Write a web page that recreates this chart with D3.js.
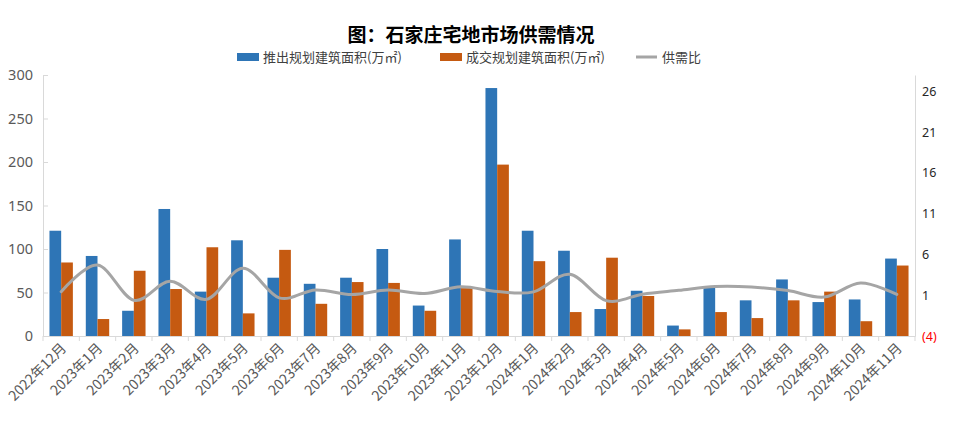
<!DOCTYPE html>
<html>
<head>
<meta charset="utf-8">
<script src="https://cdn.jsdelivr.net/npm/d3@7/dist/d3.min.js"></script>
<style>
  html, body { margin: 0; padding: 0; background: #fff; }
  svg { display: block; font-family: "Noto Sans CJK SC", "Noto Sans", sans-serif; }
</style>
</head>
<body>
<svg id="chart" width="957" height="429"></svg>
<script>
const categories = ["2022年12月","2023年1月","2023年2月","2023年3月","2023年4月","2023年5月","2023年6月","2023年7月","2023年8月","2023年9月","2023年10月","2023年11月","2023年12月","2024年1月","2024年2月","2024年3月","2024年4月","2024年5月","2024年6月","2024年7月","2024年8月","2024年9月","2024年10月","2024年11月"];
const supply = [121, 92, 29, 146, 51, 110, 67, 60, 67, 100, 35, 111, 285, 121, 98, 31, 52, 12, 57, 41, 65, 39, 42, 89];
const deal   = [84.5, 19.5, 75, 54, 102, 26, 99, 37, 62, 61, 29, 55, 197, 86, 27.5, 90, 46, 7.6, 27.5, 20.6, 41, 51, 17, 81];
const ratio  = [1.43, 4.71, 0.38, 2.72, 0.50, 4.30, 0.68, 1.65, 1.08, 1.63, 1.21, 2.03, 1.45, 1.41, 3.57, 0.34, 1.13, 1.60, 2.06, 2.00, 1.57, 0.77, 2.50, 1.10];
const leftTicks = [0, 50, 100, 150, 200, 250, 300];
const rightTicks = [-4, 1, 6, 11, 16, 21, 26];
const seriesNames = ["推出规划建筑面积(万㎡)", "成交规划建筑面积(万㎡)", "供需比"];
const colors = ["#2E75B6", "#C55A11", "#A5A5A5"];

(function () {
const svg = d3.select("#chart");
const pLeft = 43, pRight = 915, pTop = 75, pBottom = 336;

const x0 = d3.scaleBand().domain(categories).range([pLeft, pRight]).padding(0);
const bw = x0.bandwidth();
const x1 = d3.scaleBand().domain(["supply", "deal"]).range([bw * 0.178, bw * 0.822]).padding(0);
const yL = d3.scaleLinear().domain([0, 300]).range([pBottom, pTop]);
const yR = d3.scaleLinear().domain([-4, 28]).range([pBottom, pTop]);

// Title
svg.append("text").attr("x", 471).attr("y", 42).attr("text-anchor", "middle")
  .attr("font-size", 19).attr("font-weight", "bold").attr("fill", "#000")
  .text("图：石家庄宅地市场供需情况");

// Legend
const lg = svg.append("g").attr("font-size", 13).attr("fill", "#404040");
lg.append("rect").attr("x", 237).attr("y", 53).attr("width", 22).attr("height", 8).attr("fill", colors[0]);
lg.append("text").attr("x", 263).attr("y", 61.5).text(seriesNames[0]);
lg.append("rect").attr("x", 440).attr("y", 53).attr("width", 22).attr("height", 8).attr("fill", colors[1]);
lg.append("text").attr("x", 466).attr("y", 61.5).text(seriesNames[1]);
lg.append("line").attr("x1", 636).attr("x2", 657).attr("y1", 57).attr("y2", 57)
  .attr("stroke", colors[2]).attr("stroke-width", 3);
lg.append("text").attr("x", 662).attr("y", 61.5).text(seriesNames[2]);

// Left axis
const axL = svg.append("g").attr("transform", `translate(${pLeft},0)`)
  .call(d3.axisLeft(yL).tickValues(leftTicks).tickSize(-5).tickPadding(10));
axL.select(".domain").attr("stroke", "#D9D9D9");
axL.selectAll(".tick line").attr("stroke", "#D9D9D9");
axL.selectAll(".tick text").attr("font-size", 14.5).attr("fill", "#595959")
  .attr("font-family", "'Noto Sans', sans-serif");

// Right axis
const axR = svg.append("g").attr("transform", `translate(${pRight},0)`)
  .call(d3.axisRight(yR).tickValues(rightTicks).tickSize(0).tickPadding(7)
    .tickFormat(d => d < 0 ? `(${Math.abs(d)})` : d));
axR.select(".domain").attr("stroke", "#D9D9D9");
axR.selectAll(".tick text").attr("font-size", 12.5)
  .attr("fill", d => d < 0 ? "#FF0000" : "#262626")
  .attr("font-family", "'Noto Sans', sans-serif");

// Bottom axis
const axB = svg.append("g").attr("transform", `translate(0,${pBottom})`)
  .call(d3.axisBottom(x0).tickSize(0).tickFormat(""));
axB.select(".domain").attr("stroke", "#D9D9D9");
const boundaries = categories.map(c => x0(c)).concat([pRight]);
svg.append("g").selectAll("line").data(boundaries).join("line")
  .attr("x1", d => d).attr("x2", d => d).attr("y1", pBottom).attr("y2", pBottom + 5)
  .attr("stroke", "#D9D9D9");

svg.append("g").selectAll("text").data(categories).join("text")
  .attr("transform", d => `translate(${x0(d) + bw / 2 + 6},${pBottom + 13}) rotate(-45)`)
  .attr("text-anchor", "end").attr("font-size", 14).attr("fill", "#595959")
  .text(d => d);

// Bars
const bars = svg.append("g");
bars.selectAll("rect.s").data(supply).join("rect").attr("class", "s")
  .attr("x", (d, i) => x0(categories[i]) + x1("supply"))
  .attr("width", x1.bandwidth())
  .attr("y", d => yL(d)).attr("height", d => yL(0) - yL(d))
  .attr("fill", colors[0]);
bars.selectAll("rect.d").data(deal).join("rect").attr("class", "d")
  .attr("x", (d, i) => x0(categories[i]) + x1("deal"))
  .attr("width", x1.bandwidth())
  .attr("y", d => yL(d)).attr("height", d => yL(0) - yL(d))
  .attr("fill", colors[1]);

// Ratio line
const line = d3.line()
  .x((d, i) => x0(categories[i]) + bw / 2)
  .y(d => yR(d))
  .curve(d3.curveCatmullRom.alpha(0));
svg.append("path").datum(ratio).attr("d", line)
  .attr("fill", "none").attr("stroke", colors[2]).attr("stroke-width", 3)
  .attr("stroke-linecap", "round");
})();
</script>
</body>
</html>
